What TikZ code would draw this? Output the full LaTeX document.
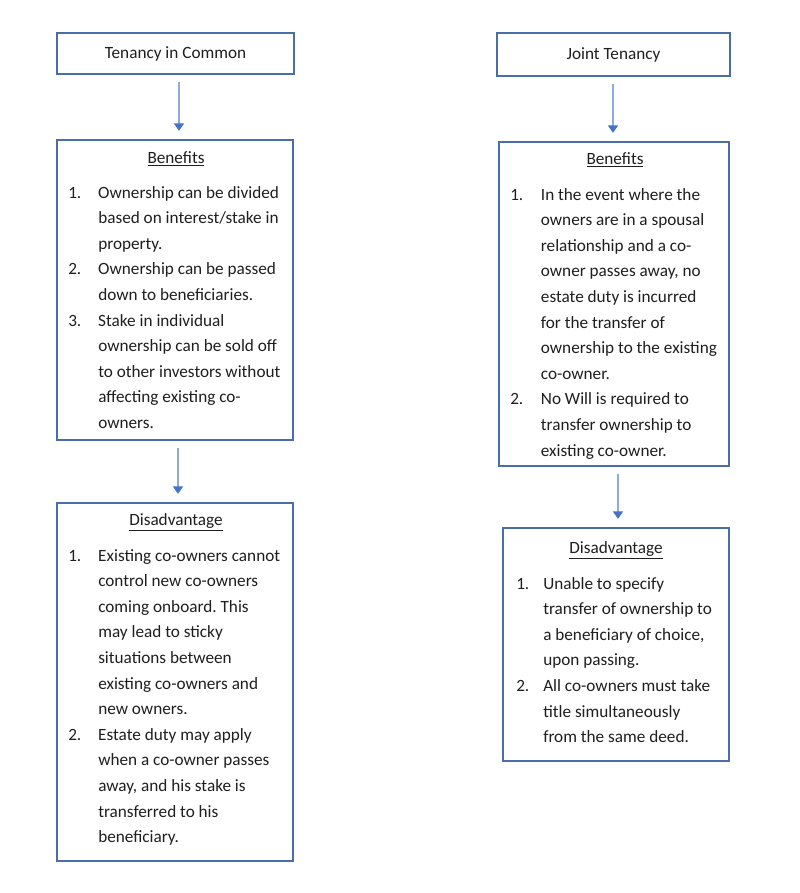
\documentclass[tikz,border=0pt]{standalone}
\usepackage{fontspec}
\setmainfont{Carlito}
\usetikzlibrary{arrows.meta}
\definecolor{boxc}{HTML}{4A6FA8}
\definecolor{linec}{HTML}{8FAADC}
\definecolor{tipc}{HTML}{4472C4}
\definecolor{txt}{HTML}{1F1F1F}
\newcommand\bodyfont{\fontsize{12.9pt}{19.2pt}\selectfont}
\newlength\numw
\newcommand\itm[2]{\makebox[\numw][l]{#1}#2}
\newcommand\cnt[1]{\hspace*{\numw}#1}
\newcommand\lines[2]{\setlength\numw{#1}\renewcommand\arraystretch{1}\begin{tabular}[t]{@{}l@{}}#2\end{tabular}}
\frenchspacing
\begin{document}
\begin{tikzpicture}[x=0.75pt,y=-0.75pt,
  box/.style={draw=boxc,line width=0.8pt,inner sep=0pt,text=txt,font=\bodyfont},
  conn/.style={draw=linec,line width=0.8pt,-{Triangle[length=5.5pt,width=7.5pt,color=tipc]},shorten <=5.25pt,shorten >=6.5pt},
  body/.style={anchor=base west,inner sep=0pt,text=txt,font=\bodyfont},
  ttl/.style={anchor=base,inner sep=0pt,text=txt,font=\bodyfont}]
\fill[white] (0,0) rectangle (800,893);
\useasboundingbox (0,0) rectangle (800,893);
% boxes
\node[box,minimum width=177.75pt,minimum height=30.75pt] (tic) at (175.5,53.5) {Tenancy in Common};
\node[box,minimum width=174.75pt,minimum height=32.25pt] (jt) at (613.5,54.5) {Joint Tenancy};
\node[box,minimum width=177pt,minimum height=225pt] (ticb) at (175,290) {};
\node[box,minimum width=172.5pt,minimum height=243pt] (jtb) at (614,304) {};
\node[box,minimum width=177pt,minimum height=268.5pt] (ticd) at (175,682) {};
\node[box,minimum width=169.5pt,minimum height=174.75pt] (jtd) at (616,644.5) {};
% connectors
\coordinate (xa) at (179,0);
\coordinate (xb) at (178,0);
\coordinate (xc) at (613,0);
\coordinate (xd) at (618,0);
\draw[conn] (tic.south -| xa) -- (ticb.north -| xa);
\draw[conn] (ticb.south -| xb) -- (ticd.north -| xb);
\draw[conn] (jt.south -| xc) -- (jtb.north -| xc);
\draw[conn] (jtb.south -| xd) -- (jtd.north -| xd);
% titles
\node[ttl] (ticbt) at (176,163) {\underline{Benefits}};
\node[ttl] (jtbt) at (615,164) {\underline{Benefits}};
\node[ttl] (ticdt) at (176,525) {\underline{Disadvantage}};
\node[ttl] (jtdt) at (616,553) {\underline{Disadvantage}};
% bodies
\node[body] (ticbx) at (68,198) {\lines{22.5pt}{%
\itm{1.}{Ownership can be divided}\\
\cnt{based on interest/stake in}\\
\cnt{property.}\\
\itm{2.}{Ownership can be passed}\\
\cnt{down to beneficiaries.}\\
\itm{3.}{Stake in individual}\\
\cnt{ownership can be sold off}\\
\cnt{to other investors without}\\
\cnt{affecting existing co-}\\
\cnt{owners.}}};
\node[body] (jtbx) at (510,200) {\lines{23pt}{%
\itm{1.}{In the event where the}\\
\cnt{owners are in a spousal}\\
\cnt{relationship and a co-}\\
\cnt{owner passes away, no}\\
\cnt{estate duty is incurred}\\
\cnt{for the transfer of}\\
\cnt{ownership to the existing}\\
\cnt{co-owner.}\\
\itm{2.}{No Will is required to}\\
\cnt{transfer ownership to}\\
\cnt{existing co-owner.}}};
\node[body] (ticdx) at (68,561) {\lines{22.5pt}{%
\itm{1.}{Existing co-owners cannot}\\
\cnt{control new co-owners}\\
\cnt{coming onboard. This}\\
\cnt{may lead to sticky}\\
\cnt{situations between}\\
\cnt{existing co-owners and}\\
\cnt{new owners.}\\
\itm{2.}{Estate duty may apply}\\
\cnt{when a co-owner passes}\\
\cnt{away, and his stake is}\\
\cnt{transferred to his}\\
\cnt{beneficiary.}}};
\node[body] (jtdx) at (516,589) {\lines{20.25pt}{%
\itm{1.}{Unable to specify}\\
\cnt{transfer of ownership to}\\
\cnt{a beneficiary of choice,}\\
\cnt{upon passing.}\\
\itm{2.}{All co-owners must take}\\
\cnt{title simultaneously}\\
\cnt{from the same deed.}}};
\end{tikzpicture}
\end{document}
